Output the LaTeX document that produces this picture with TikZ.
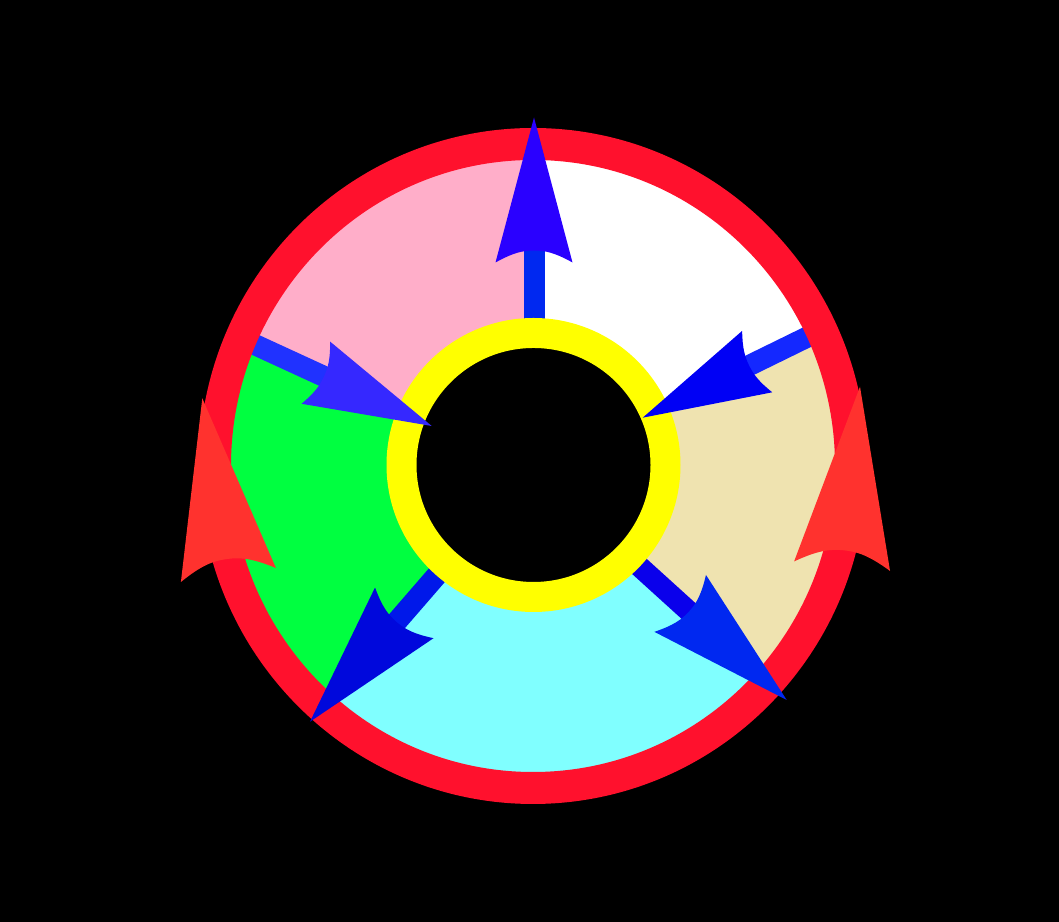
\documentclass[tikz,border=0pt]{standalone}
\usetikzlibrary{calc}
\definecolor{ringred}{RGB}{255,17,45}
\definecolor{headred}{RGB}{255,50,46}
\definecolor{secpink}{RGB}{255,174,201}
\definecolor{sectan}{RGB}{239,227,176}
\definecolor{seccyan}{RGB}{128,255,255}
\definecolor{secgreen}{RGB}{0,255,64}
\definecolor{ringyellow}{RGB}{255,255,0}
\definecolor{shA}{RGB}{0,40,240}\definecolor{hdA}{RGB}{42,0,255}
\definecolor{shB}{RGB}{20,40,255}\definecolor{hdB}{RGB}{0,0,245}
\definecolor{shD}{RGB}{32,50,255}\definecolor{hdD}{RGB}{53,40,255}
\definecolor{shE}{RGB}{0,24,234}\definecolor{hdE}{RGB}{0,8,220}
\definecolor{shF}{RGB}{10,0,235}\definecolor{hdF}{RGB}{0,40,240}
% #1 tip coordinate, #2 angle, #3 length, #4 half width, #5 inset, #6 colour
\newcommand{\arrhead}[6]{%
  \fill[#6,shift={(#1)},rotate=#2] (0,0) -- (-#3,#4)
    .. controls ({-#3+0.8*#5},{0.55*#4}) and ({-#3+#5},{0.3*#4}) .. ({-#3+#5},0)
    .. controls ({-#3+#5},{-0.3*#4}) and ({-#3+0.8*#5},{-0.55*#4}) .. (-#3,-#4) -- cycle;}
\tikzset{shaft/.style={line width=11.95pt},
  redring/.style={draw=ringred,line width=18.2pt},
  yelring/.style={draw=ringyellow,line width=17.07pt}}
\begin{document}
\begin{tikzpicture}[x=0.02cm,y=0.02cm]
\fill[black] (0,0) rectangle (1059,922);
\useasboundingbox (0,0) rectangle (1059,922);
\coordinate (C) at (533.5,457);
\coordinate (R) at (533,456);
% arrow frames
\begin{scope}[shift={(534,804.5)},rotate=90]
  \coordinate (tA) at (0,0); \coordinate (sA) at (-128,0); \coordinate (bA) at (-215,0);
\end{scope}
\begin{scope}[shift={(642.7,504.3)},rotate=206.1]
  \coordinate (tB) at (0,0); \coordinate (sB) at (-113.5,0); \coordinate (bB) at (-205,0);
\end{scope}
\begin{scope}[shift={(431.7,496)},rotate=335.3]
  \coordinate (tD) at (0,0); \coordinate (sD) at (-113.5,0); \coordinate (bD) at (-212,0);
\end{scope}
\begin{scope}[shift={(310,200.3)},rotate=229.1]
  \coordinate (tE) at (0,0); \coordinate (sE) at (-127,0); \coordinate (bE) at (-215,0);
\end{scope}
\begin{scope}[shift={(786.7,222)},rotate=317.8]
  \coordinate (tF) at (0,0); \coordinate (sF) at (-127,0); \coordinate (bF) at (-220,0);
\end{scope}
\coordinate (tG) at (202.3,523.7);
\coordinate (tH) at (860,535.3);
% sectors
\fill[white]     (C) -- ([shift={(C)}]25:318 and 322)  arc[start angle=25,end angle=90,x radius=318,y radius=322] -- cycle;
\fill[secpink]   (C) -- ([shift={(C)}]90:318 and 322)  arc[start angle=90,end angle=157,x radius=318,y radius=322] -- cycle;
\fill[secgreen]  (C) -- ([shift={(C)}]157:318 and 322) arc[start angle=157,end angle=229,x radius=318,y radius=322] -- cycle;
\fill[seccyan]   (C) -- ([shift={(C)}]229:318 and 322) arc[start angle=229,end angle=317,x radius=318,y radius=322] -- cycle;
\fill[sectan]    (C) -- ([shift={(C)}]317:318 and 322) arc[start angle=317,end angle=385,x radius=318,y radius=322] -- cycle;
% shafts
\draw[shaft,shA] (bA) -- (sA);
\draw[shaft,shB] (bB) -- (sB);
\draw[shaft,shD] (bD) -- (sD);
\draw[shaft,shE] (bE) -- (sE);
\draw[shaft,shF] (bF) -- (sF);
% rings
\draw[redring] (R) ellipse [x radius=318,y radius=322];
\fill[black] (C) circle[radius=120];
\draw[yelring] (C) circle[radius=132];
% blue heads
\arrhead{tA}{90}{145}{38.5}{12}{hdA}
\arrhead{tB}{206.1}{127.5}{34.2}{9}{hdB}
\arrhead{tD}{335.3}{127.5}{34.2}{9}{hdD}
\arrhead{tE}{229.1}{144}{38.7}{12}{hdE}
\arrhead{tF}{317.8}{143.8}{38.4}{12}{hdF}
% red heads
\arrhead{tG}{98.4}{178.6}{48}{16}{headred}
\arrhead{tH}{84.3}{180.4}{48.2}{16}{headred}
\end{tikzpicture}
\end{document}
